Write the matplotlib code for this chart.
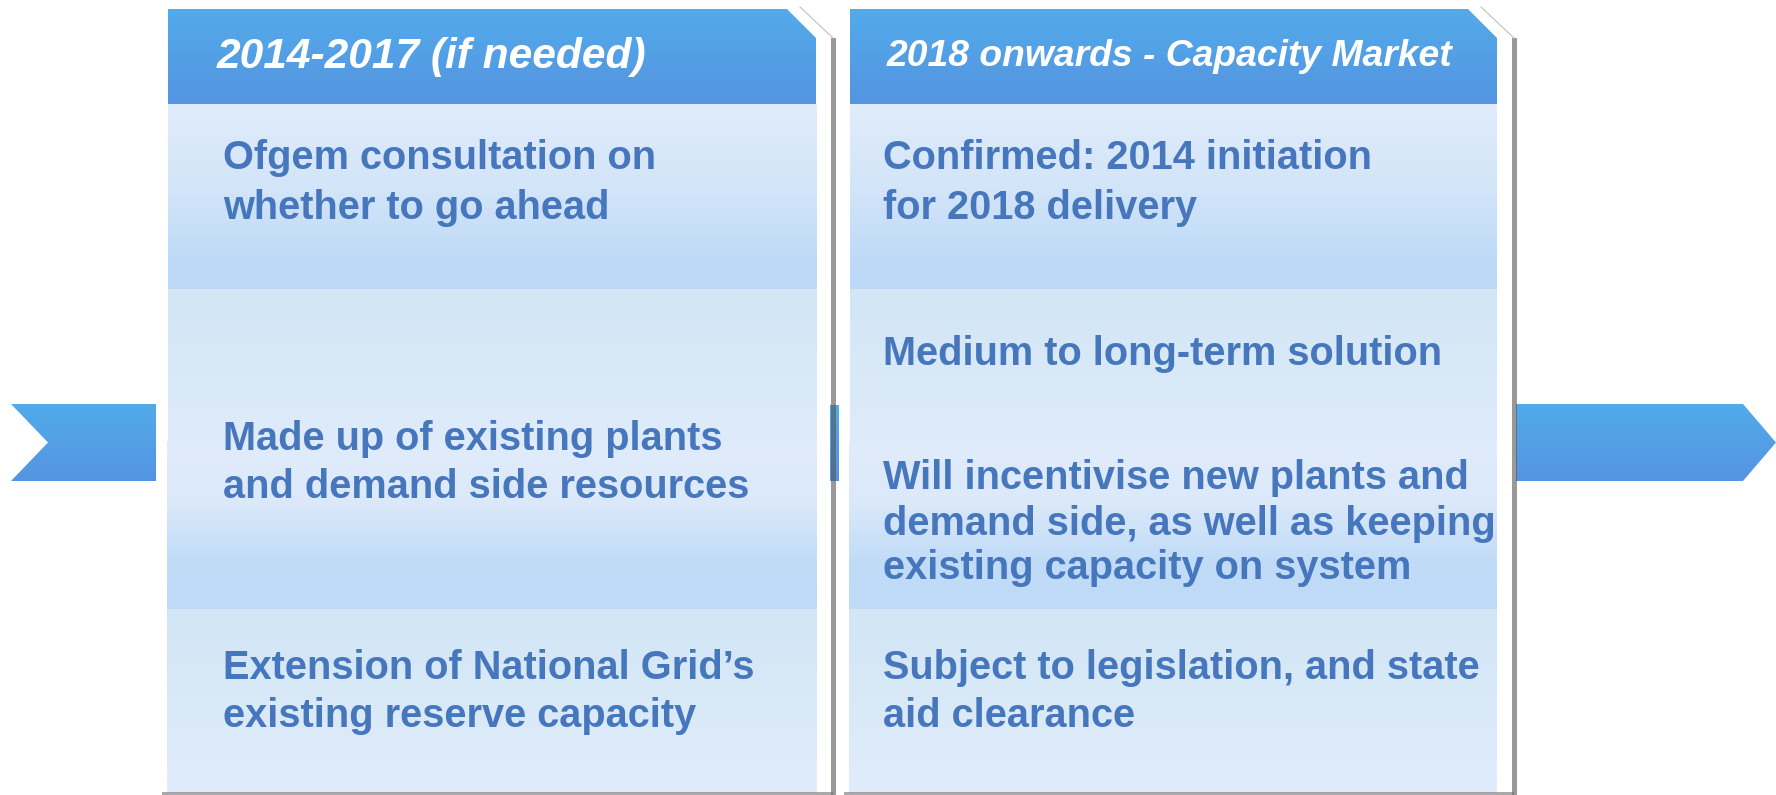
import numpy as np
import matplotlib
matplotlib.use("Agg")
import matplotlib.pyplot as plt
from matplotlib.patches import Polygon, Rectangle
from matplotlib.colors import to_rgb

# ---- content ----
headers = ["2014-2017 (if needed)", "2018 onwards - Capacity Market"]
left_row1 = ["Ofgem consultation on", "whether to go ahead"]
left_row2 = ["Made up of existing plants", "and demand side resources"]
left_row3 = ["Extension of National Grid\u2019s", "existing reserve capacity"]
right_row1 = ["Confirmed: 2014 initiation", "for 2018 delivery"]
right_row2a = ["Medium to long-term solution"]
right_row2b = ["Will incentivise new plants and",
               "demand side, as well as keeping",
               "existing capacity on system"]
right_row3 = ["Subject to legislation, and state", "aid clearance"]

W, H = 1776, 795
fig = plt.figure(figsize=(W / 100, H / 100), dpi=100)
ax = fig.add_axes([0, 0, 1, 1])
ax.set_xlim(0, W)
ax.set_ylim(H, 0)
ax.axis("off")

TXT = "#4677BD"
FONT = "Liberation Sans"


def grad(x0, x1, y0, y1, stops, clip=None, z=1):
    n = 200
    pos = np.linspace(0, 1, n)
    sp = [s[0] for s in stops]
    cols = np.array([to_rgb(s[1]) for s in stops])
    arr = np.stack([np.interp(pos, sp, cols[:, k]) for k in range(3)], axis=-1)
    arr = arr[:, None, :]
    im = ax.imshow(arr, extent=(x0, x1, y1, y0), origin="upper",
                   aspect="auto", interpolation="bilinear", zorder=z)
    if clip is not None:
        ax.add_patch(clip)
        clip.set_visible(False)
        im.set_clip_path(clip)
    else:
        r = Rectangle((x0, y0), x1 - x0, y1 - y0, transform=ax.transData)
        im.set_clip_path(r)
    return im


head_stops = [(0, "#52ABEA"), (1, "#5594E1")]
row1_stops = [(0, "#E0ECFB"), (0.45, "#D3E5F9"), (0.85, "#BEDAF7"), (1, "#BCD9F7")]
row2a_stops = [(0, "#D2E6F5"), (1, "#DEEBFA")]
row2b_stops = [(0, "#E0ECFB"), (0.35, "#DCE9FA"), (0.7, "#C2DCF8"), (1, "#BDDAF7")]
row3_stops = [(0, "#D2E6F5"), (1, "#E0ECFB")]

# ---- arrows (behind panels) ----
la = Polygon([(11, 404), (156, 404), (156, 481), (11, 481), (48, 442.5)], closed=True)
grad(11, 156, 404, 481, head_stops, clip=la, z=1)
ra = Polygon([(1516, 404), (1743, 404), (1776, 442.5), (1743, 481), (1516, 481)], closed=True)
grad(1516, 1776, 404, 481, head_stops, clip=ra, z=1)
grad(830, 839, 405, 481, head_stops, z=1)

# ---- panels ----
panels = [(168, 816), (850, 1497)]
for (x0, x1) in panels:
    hp = Polygon([(x0, 104), (x0, 9), (x1 - 29, 9), (x1, 38), (x1, 104)], closed=True)
    grad(x0, x1, 9, 104, head_stops, clip=hp, z=2)
    grad(x0, x1, 104, 289, row1_stops, z=2)
    grad(x0, x1, 289, 441, row2a_stops, z=2)
    grad(x0 - 1, x1, 441, 609, row2b_stops, z=2)
    grad(x0 - 1, x1, 609, 793, row3_stops, z=2)
    # shadow
    sx = x1 + 17
    ax.add_patch(Rectangle((sx - 2.5, 38), 5, 757, facecolor="#555555",
                           edgecolor="none", alpha=0.6, zorder=3))
    ax.plot([x1 - 16, sx], [7, 38], color="#c0c0c0", lw=0.8, zorder=3)
    ax.add_patch(Rectangle((x0 - 6, 792), sx - x0 + 6, 3, facecolor="#707070",
                           edgecolor="none", alpha=0.6, zorder=3))

# ---- text ----
ax.text(217, 57, headers[0], color="white", fontsize=30.6, family=FONT,
        weight="bold", style="italic", va="center", ha="left", zorder=5)
ax.text(887, 57, headers[1], color="white", fontsize=26.8, family=FONT,
        weight="bold", style="italic", va="center", ha="left", zorder=5)


def lines(x, centers, txts):
    for c, t in zip(centers, txts):
        ax.text(x, c + 13, t, color=TXT, fontsize=28.6, family=FONT,
                weight="bold", va="baseline", ha="left", zorder=5)


lines(223, [156, 206], left_row1)
lines(223, [437, 485], left_row2)
lines(223, [666, 714], left_row3)
lines(883, [156, 206], right_row1)
lines(883, [352], right_row2a)
lines(883, [476, 522, 566], right_row2b)
lines(883, [666, 714], right_row3)

fig.savefig("out.png", dpi=100, facecolor="white")
